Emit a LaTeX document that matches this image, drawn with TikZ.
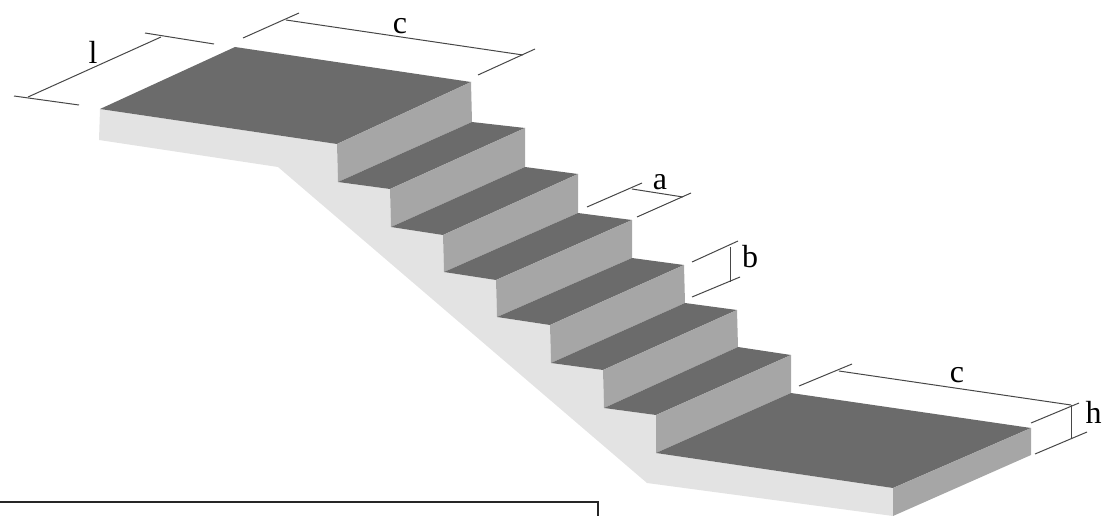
\documentclass[tikz,border=0pt]{standalone}
\usepackage{fontspec}
\setmainfont{Liberation Serif}
\tikzset{
    treadface/.style={fill=black!58},
    riserface/.style={fill=black!35},
    slabface/.style={fill=black!11},
    dimline/.style={draw=black!72, line width=1pt},
    dimlabel/.style={font=\fontsize{32}{32}\selectfont, inner sep=0pt},
}

\begin{document}
\begin{tikzpicture}[x=1pt,y=-1pt]
        \useasboundingbox (0,0) rectangle (1102,516);
        % concrete side
        \fill [slabface] (100,109) -- (337,144) -- (338,182) -- (390,189) -- (391,227) -- (443,235) -- (444,272) -- (496,280) -- (497,317) -- (550,325) -- (551,363) -- (603,370) -- (604,408) -- (656,415) -- (656,453) -- (893,488) -- (893,516) -- (647,483) -- (278,167) -- (99,140) -- cycle;
        % upper landing
        \fill [treadface] (235,47) -- (471,82) -- (337,144) -- (100,109) -- cycle;
        \fill [riserface] (471,82) -- (472,122) -- (338,182) -- (337,144) -- cycle;
        % steps
        \fill [treadface] (472,122) -- (525,128) -- (390,189) -- (338,182) -- cycle;
        \fill [riserface] (525,128) -- (525,167) -- (391,227) -- (390,189) -- cycle;
        \fill [treadface] (525,167) -- (578,174) -- (443,235) -- (391,227) -- cycle;
        \fill [riserface] (578,174) -- (578,213) -- (444,272) -- (443,235) -- cycle;
        \fill [treadface] (578,213) -- (632,220) -- (496,280) -- (444,272) -- cycle;
        \fill [riserface] (632,220) -- (632,258) -- (497,317) -- (496,280) -- cycle;
        \fill [treadface] (632,258) -- (684,265) -- (550,325) -- (497,317) -- cycle;
        \fill [riserface] (684,265) -- (685,303) -- (551,363) -- (550,325) -- cycle;
        \fill [treadface] (685,303) -- (737,310) -- (603,370) -- (551,363) -- cycle;
        \fill [riserface] (737,310) -- (738,347) -- (604,408) -- (603,370) -- cycle;
        \fill [treadface] (738,347) -- (791,355) -- (656,415) -- (604,408) -- cycle;
        \fill [riserface] (791,355) -- (791,393) -- (656,453) -- (656,415) -- cycle;
        % lower landing
        \fill [treadface] (791,393) -- (1031,428) -- (893,488) -- (656,453) -- cycle;
        \fill [riserface] (1031,428) -- (1031,455) -- (893,516) -- (893,488) -- cycle;
        % dimension l
        \draw [dimline] (28,97) -- (161,37);
        \draw [dimline] (14,96) -- (79,105);
        \draw [dimline] (145,33) -- (214,44);
        \node [dimlabel] (labelL) at (93,52) {l};
        % dimension c, top
        \draw [dimline] (286,20) -- (523,55);
        \draw [dimline] (243,38) -- (299,13);
        \draw [dimline] (478,75) -- (535,49);
        \node [dimlabel] (labelCtop) at (400,26) {c};
        % dimension a
        \draw [dimline] (632,189) -- (683,197);
        \draw [dimline] (587,207) -- (642,183);
        \draw [dimline] (637,217) -- (691,193);
        \node [dimlabel] (labelA) at (660,182) {a};
        % dimension b
        \draw [dimline] (730,247) -- (730,282);
        \draw [dimline] (692,262) -- (738,241);
        \draw [dimline] (692,297) -- (740,277);
        \node [dimlabel] (labelB) at (750,257) {b};
        % dimension c, bottom
        \draw [dimline] (839,371) -- (1071,405);
        \draw [dimline] (799,386) -- (852,364);
        \draw [dimline] (1031,423) -- (1079,403);
        \node [dimlabel] (labelCbot) at (957,375) {c};
        % dimension h
        \draw [dimline] (1071,405) -- (1071,439);
        \draw [dimline] (1035,454) -- (1087,432);
        \node [dimlabel] (labelH) at (1093.5,412) {h};
        % frame cut off by the page
        \draw [black!85, line width=1.6pt] (0,502) -- (598,502) -- (598,516);
    \end{tikzpicture}
\end{document}
